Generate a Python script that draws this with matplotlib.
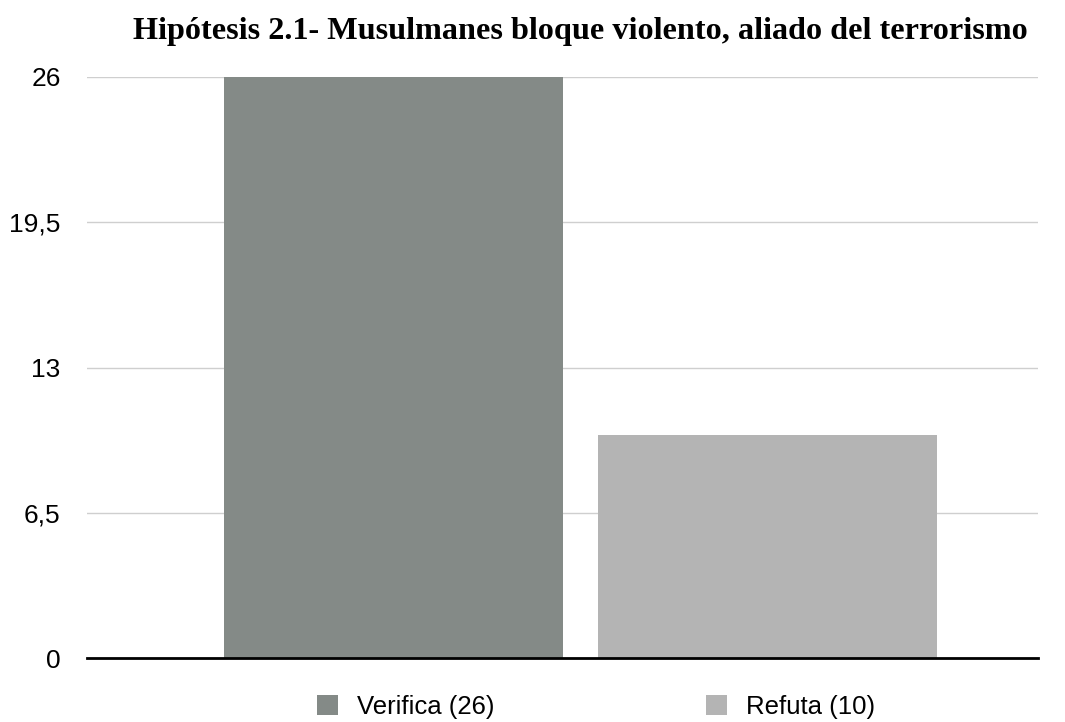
import matplotlib
matplotlib.use("Agg")
import matplotlib.pyplot as plt
from matplotlib.patches import Patch

categories = ["Verifica (26)", "Refuta (10)"]
values = [26, 10]
colors = ["#848a87", "#b4b4b4"]
yticks = [0, 6.5, 13, 19.5, 26]
ytick_labels = ["0", "6,5", "13", "19,5", "26"]
title = "Hipótesis 2.1- Musulmanes bloque violento, aliado del terrorismo"

fig = plt.figure(figsize=(10.65, 7.22), dpi=100)
ax = fig.add_axes([87/1065, 1-658/722, (1038-87)/1065, (658-77)/722])

x = list(range(len(values)))
ax.bar(x, values, width=0.906, color=colors, zorder=2)
ax.set_xlim(-0.8195, 1.723)
ax.set_ylim(0, 26)
ax.set_yticks(yticks)
ax.set_yticklabels(ytick_labels, family="Liberation Sans", fontsize=19)
ax.tick_params(axis="y", length=0, pad=19)
ax.set_xticks([])
ax.grid(axis="y", color="#cfcfcf", linewidth=1, zorder=0)
for s in ["top", "right", "left"]:
    ax.spines[s].set_visible(False)
ax.spines["bottom"].set_linewidth(2)
ax.spines["bottom"].set_color("black")
ax.spines["bottom"].set_zorder(3)

fig.text(580.5/1065, 1-32/722, title, family="Liberation Serif", fontweight="bold",
         fontsize=23.2, ha="center", va="center")

handles = [Patch(facecolor=c, edgecolor="none") for c in colors]
fig.legend(handles, categories, loc="center", bbox_to_anchor=(596/1065, 1-707/722),
           ncol=2, frameon=False, prop={"family": "Liberation Sans", "size": 18.5},
           handlelength=0.82, handleheight=0.82, columnspacing=8.2, handletextpad=0.74)

fig.savefig("out.png", dpi=100)
